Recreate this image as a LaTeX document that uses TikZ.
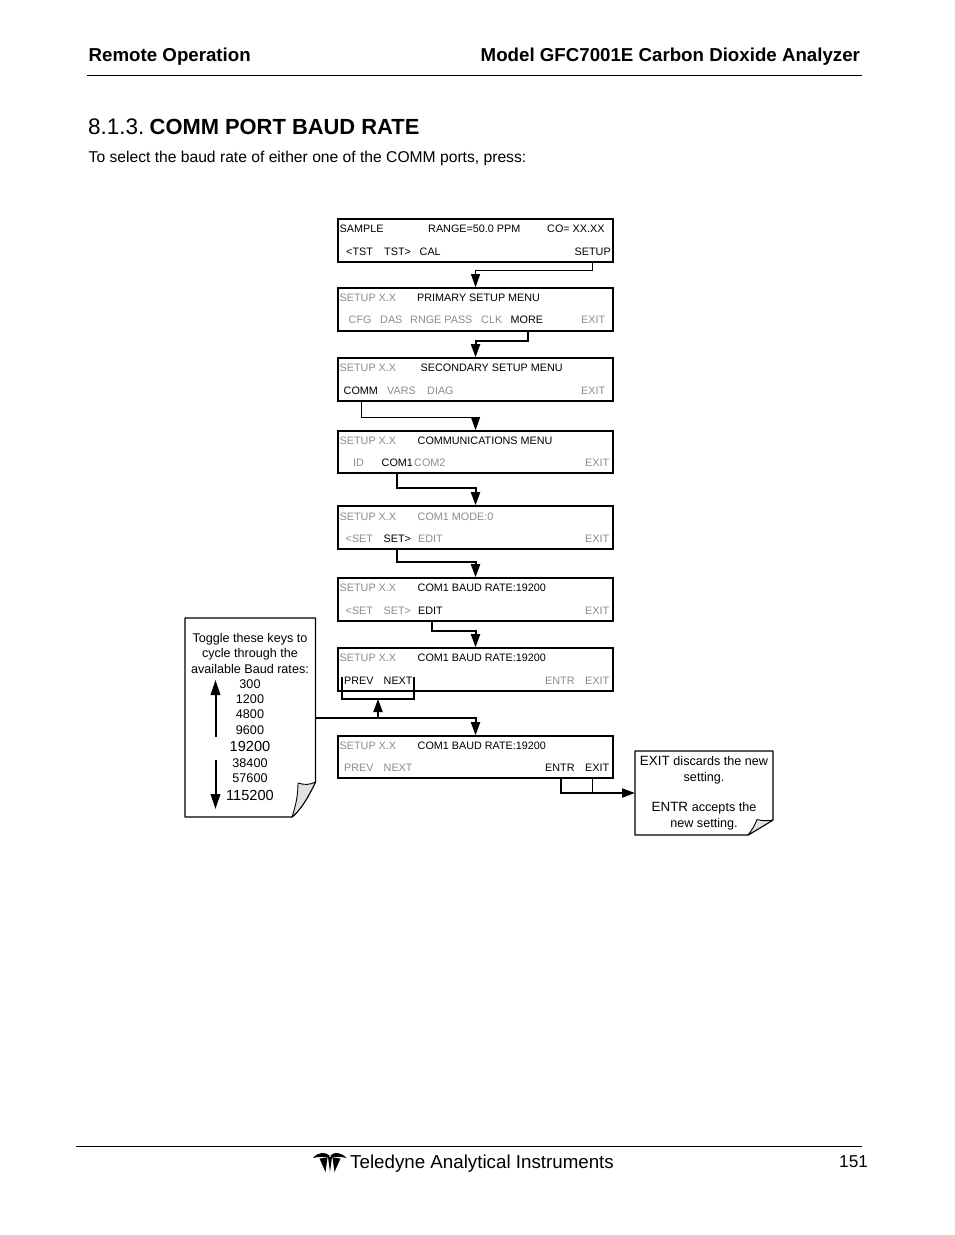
\documentclass[tikz,border=0pt]{standalone}
\usepackage{fontspec}
\setmainfont{Liberation Sans}
\usetikzlibrary{arrows.meta}
\definecolor{dim}{HTML}{8C8C8C}
\definecolor{foldgray}{HTML}{E2E2E2}
\newcommand{\fs}[1]{\fontsize{#1}{#1}\selectfont}
\tikzset{
  panel/.style={draw=black,line width=1.7pt,minimum width=275pt,minimum height=43pt,inner sep=0pt,anchor=north west},
  txt/.style={inner sep=0pt,anchor=base west,text=black},
  on/.style={txt,font=\fs{10.8}},
  off/.style={txt,font=\fs{10.8},text=dim},
  mid/.style={inner sep=0pt,anchor=base,font=\fs{12.6}},
  big/.style={inner sep=0pt,anchor=base,font=\fs{14.6}},
  head/.style={txt,font=\fs{18.7}\bfseries},
  link/.style={draw=black,line width=2pt,-{Triangle[length=13pt,width=9pt]}},
  thinlink/.style={draw=black,line width=1pt},
  rulehair/.style={draw=black,line width=0.9pt},
  notebody/.style={draw=black,line width=1.2pt,fill=white,line join=round},
  fold/.style={draw=black,line width=0.9pt,fill=foldgray,line join=round},
  vert/.style={draw=black,line width=2pt,-{Triangle[length=15pt,width=9.5pt]}}
}
\begin{document}
\begin{tikzpicture}[x=1pt,y=-1pt]
\useasboundingbox[fill=white] (0,0) rectangle (954,1235);
% page furniture
\node[head] (hl) at (88.5,61) {Remote Operation};
\node[head] (hr) at (480.5,61) {Model GFC7001E Carbon Dioxide Analyzer};
\draw[draw=black,line width=1.5pt] (87,75.5) -- (862,75.5);
\node[txt,font=\fs{22.5}] (sec) at (88,134) {8.1.3.};
\node[txt,font=\fs{21.9}\bfseries] (sect) at (149.5,134) {COMM PORT BAUD RATE};
\node[txt,font=\fs{15.65}] (intro) at (88.5,162) {To select the baud rate of either one of the COMM ports, press:};
\draw[rulehair] (76,1146.5) -- (862,1146.5);
\node[txt,font=\fs{18.75}] (ft) at (350,1168) {Teledyne Analytical Instruments};
\node[txt,font=\fs{17.2}] (pg) at (839,1167.5) {151};
% logo
\fill[black] (313,1158) .. controls (318,1152) and (325,1151.5) .. (329.5,1155.5) -- (329,1158) .. controls (324,1156.5) and (319,1156.5) .. (313,1158) -- cycle;
\fill[black] (346.5,1158) .. controls (341,1152) and (334,1151.5) .. (330.5,1155.5) -- (331,1158) .. controls (336,1156.5) and (341,1156.5) .. (346.5,1158) -- cycle;
\fill[black] (319.5,1158.5) -- (327.5,1157.5) -- (325.5,1172) -- cycle;
\fill[black] (340.5,1158.5) -- (332.5,1157.5) -- (334.5,1172) -- cycle;
\fill[black] (328,1157) -- (332,1157) -- (330,1172) -- cycle;
% panels
\node[panel] (p1) at (337.2,218.2) {};
\node[panel] (p2) at (337.2,287.2) {};
\node[panel] (p3) at (337.2,357.2) {};
\node[panel,minimum height=42pt] (p4) at (337.2,430.2) {};
\node[panel] (p5) at (337.2,505.2) {};
\node[panel] (p6) at (337.2,577.2) {};
\node[panel] (p7) at (337.2,647.2) {};
\node[panel,minimum height=42pt] (p8) at (337.2,735.2) {};
% panel 1
\node[on] (a1) at (339.5,232) {SAMPLE};
\node[on] (a2) at (428,232) {RANGE=50.0 PPM};
\node[on] (a3) at (547,232) {CO= XX.XX};
\node[on] (a4) at (346,255) {<TST};
\node[on] (a5) at (384,255) {TST>};
\node[on] (a6) at (419.5,255) {CAL};
\node[on] (a7) at (574.5,255) {SETUP};
% panel 2
\node[off] (b1) at (339.5,301) {SETUP X.X};
\node[on] (b2) at (417,301) {PRIMARY SETUP MENU};
\node[off] (b3) at (348.5,323) {CFG};
\node[off] (b4) at (380,323) {DAS};
\node[off] (b5) at (410,323) {RNGE PASS};
\node[off] (b6) at (481,323) {CLK};
\node[on] (b7) at (510.5,323) {MORE};
\node[off] (b8) at (581,323) {EXIT};
% panel 3
\node[off] (c1) at (339.5,371) {SETUP X.X};
\node[on] (c2) at (420.5,371) {SECONDARY SETUP MENU};
\node[on] (c3) at (343.5,394) {COMM};
\node[off] (c4) at (387,394) {VARS};
\node[off] (c5) at (427,394) {DIAG};
\node[off] (c6) at (581,394) {EXIT};
% panel 4
\node[off] (d1) at (339.5,444) {SETUP X.X};
\node[on] (d2) at (417.5,444) {COMMUNICATIONS MENU};
\node[off] (d3) at (353,466) {ID};
\node[on] (d4) at (381.5,466) {COM1};
\node[off] (d5) at (414,466) {COM2};
\node[off] (d6) at (585,466) {EXIT};
% panel 5
\node[off] (e1) at (339.5,520) {SETUP X.X};
\node[off] (e2) at (417.5,520) {COM1 MODE:0};
\node[off] (e3) at (345.5,542) {<SET};
\node[on] (e4) at (383.5,542) {SET>};
\node[off] (e5) at (418,542) {EDIT};
\node[off] (e6) at (585,542) {EXIT};
% panel 6
\node[off] (f1) at (339.5,591) {SETUP X.X};
\node[on] (f2) at (417.5,591) {COM1 BAUD RATE:19200};
\node[off] (f3) at (345.5,614) {<SET};
\node[off] (f4) at (383.5,614) {SET>};
\node[on] (f5) at (418,614) {EDIT};
\node[off] (f6) at (585,614) {EXIT};
% panel 7
\node[off] (g1) at (339.5,661) {SETUP X.X};
\node[on] (g2) at (417.5,661) {COM1 BAUD RATE:19200};
\node[on] (g3) at (344,684) {PREV};
\node[on] (g4) at (383.5,684) {NEXT};
\node[off] (g5) at (545,684) {ENTR};
\node[off] (g6) at (585,684) {EXIT};
% panel 8
\node[off] (h1) at (339.5,749) {SETUP X.X};
\node[on] (h2) at (417.5,749) {COM1 BAUD RATE:19200};
\node[off] (h3) at (344,771) {PREV};
\node[off] (h4) at (383.5,771) {NEXT};
\node[on] (h5) at (545,771) {ENTR};
\node[on] (h6) at (585,771) {EXIT};
% connector ends
\coordinate (k1) at (592.7,261);
\coordinate (k2) at (528,330);
\coordinate (k3) at (361,400);
\coordinate (k4) at (397,472);
\coordinate (k5) at (397,548);
\coordinate (k6) at (432,620);
\coordinate (k8a) at (561,777);
\coordinate (k8b) at (592,777);
\coordinate (brL) at (342,677);
\coordinate (brR) at (414,677);
\coordinate (brM) at (378,699);
\coordinate (nA) at (316,718);
\coordinate (nB) at (635,793);
% connectors
\draw[link,line width=1pt] (k1) -- ++(0,9.5) -| (p2.north);
\draw[link] (k2) -- ++(0,10.5) -| (p3.north);
\draw[link,line width=1pt] (k3) -- ++(0,17) -| (p4.north);
\draw[link] (k4) -- ++(0,15.5) -| (p5.north);
\draw[link] (k5) -- ++(0,13.5) -| (p6.north);
\draw[link] (k6) -- ++(0,11) -| (p7.north);
\draw[draw=black,line width=1.5pt] (brL) -- (brL |- brM) -- (brR |- brM) -- (brR);
\draw[link] (nA -| brM) -- (brM);
\draw[link] (nA) -| (p8.north);
\draw[link] (k8a) |- (nB);
\draw[thinlink] (k8b) -- ++(0,16);
% note A
\draw[notebody] (185,618) -- (315.5,618) -- (315.5,782) .. controls (306,802) and (299,811) .. (292,817) -- (185,817) -- cycle;
\draw[fold] (298,783) .. controls (304,785) and (310,785) .. (315.5,782) .. controls (306,802) and (299,811) .. (292,817) .. controls (296,805) and (298,795) .. (298,783) -- cycle;
\node[mid] (t1) at (250,642.5) {Toggle these keys to};
\node[mid] (t2) at (250,657.5) {cycle through the};
\node[mid] (t3) at (250,673) {available Baud rates:};
\node[mid] (t4) at (250,688.5) {300};
\node[mid] (t5) at (250,703.5) {1200};
\node[mid] (t6) at (250,718.5) {4800};
\node[mid] (t7) at (250,734.5) {9600};
\node[big] (t8) at (250,751) {19200};
\node[mid] (t9) at (250,767.5) {38400};
\node[mid] (t10) at (250,782.5) {57600};
\node[big] (t11) at (250,800) {115200};
\coordinate (upA) at (215.5,737);
\coordinate (upB) at (215.5,680);
\coordinate (dnA) at (215.5,760);
\coordinate (dnB) at (215.5,809);
\draw[vert] (upA) -- (upB);
\draw[vert] (dnA) -- (dnB);
% note B
\draw[notebody] (635,751) -- (773,751) -- (773,820) .. controls (763,826) and (755,831) .. (748,835) -- (635,835) -- cycle;
\draw[fold] (757,819.5) .. controls (762,821) and (768,821) .. (773,820) .. controls (763,826) and (755,831) .. (748,835) .. controls (752,830) and (755,825) .. (757,819.5) -- cycle;
\node[mid] (u1) at (704,765.5) {\fs{13.4}EXIT \fs{12.6}discards the new};
\node[mid] (u2) at (704,781) {setting.};
\node[mid] (u3) at (704,811.5) {\fs{13.4}ENTR \fs{12.6}accepts the};
\node[mid] (u4) at (704,827) {new setting.};
\end{tikzpicture}
\end{document}
